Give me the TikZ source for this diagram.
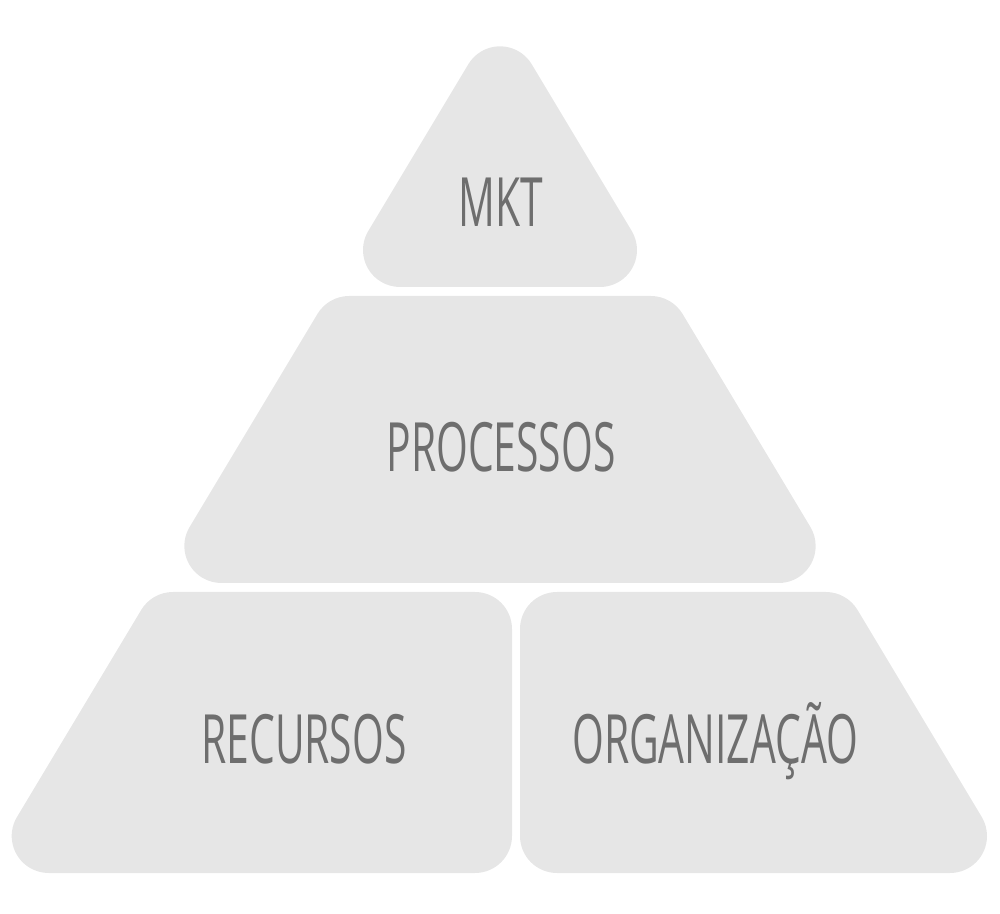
\documentclass[tikz,border=0pt]{standalone}
\usepackage{fontspec}
\setmainfont{Open Sans}[FakeStretch=0.6]
\usetikzlibrary{calc}
\definecolor{blockfill}{HTML}{E6E6E6}
\definecolor{labelgray}{HTML}{6E6E6E}
\begin{document}
\begin{tikzpicture}[x=1pt,y=1pt,
  block/.style={fill=blockfill,draw=none},
  lbl/.style={text=labelgray,font=\fontsize{68}{68}\selectfont,anchor=base,inner sep=0pt}]
\useasboundingbox (0,0) rectangle (1000,913);
\def\R{37pt}
% top triangle
\coordinate (tBL) at (400,663);
\coordinate (tBR) at (600,663);
\coordinate (tA) at (500,829.67);
\fill[block] ($(tBL)+(149.04:\R)$) arc[start angle=149.04,end angle=270,radius=\R]
  -- ($(tBR)+(270:\R)$) arc[start angle=270,end angle=390.96,radius=\R]
  -- ($(tA)+(30.96:\R)$) arc[start angle=30.96,end angle=149.04,radius=\R] -- cycle;
% middle trapezoid
\coordinate (mBL) at (221.35,367);
\coordinate (mBR) at (778.65,367);
\coordinate (mTR) at (650.85,580);
\coordinate (mTL) at (349.15,580);
\fill[block] ($(mBL)+(149.04:\R)$) arc[start angle=149.04,end angle=270,radius=\R]
  -- ($(mBR)+(270:\R)$) arc[start angle=270,end angle=390.96,radius=\R]
  -- ($(mTR)+(30.96:\R)$) arc[start angle=30.96,end angle=90,radius=\R]
  -- ($(mTL)+(90:\R)$) arc[start angle=90,end angle=149.04,radius=\R] -- cycle;
% bottom left
\coordinate (lBL) at (48.7,77);
\coordinate (lBR) at (475,77);
\coordinate (lTR) at (475,284);
\coordinate (lTL) at (172.9,284);
\fill[block] ($(lBL)+(149.04:\R)$) arc[start angle=149.04,end angle=270,radius=\R]
  -- ($(lBR)+(270:\R)$) arc[start angle=270,end angle=360,radius=\R]
  -- ($(lTR)+(0:\R)$) arc[start angle=0,end angle=90,radius=\R]
  -- ($(lTL)+(90:\R)$) arc[start angle=90,end angle=149.04,radius=\R] -- cycle;
% bottom right
\coordinate (rBL) at (557,77);
\coordinate (rBR) at (950,77);
\coordinate (rTR) at (825.8,284);
\coordinate (rTL) at (557,284);
\fill[block] ($(rBL)+(180:\R)$) arc[start angle=180,end angle=270,radius=\R]
  -- ($(rBR)+(270:\R)$) arc[start angle=270,end angle=390.96,radius=\R]
  -- ($(rTR)+(30.96:\R)$) arc[start angle=30.96,end angle=90,radius=\R]
  -- ($(rTL)+(90:\R)$) arc[start angle=90,end angle=180,radius=\R] -- cycle;
% labels
\node[lbl] (mkt) at (501,686) {MKT};
\node[lbl] (proc) at (501,441) {PROCESSOS};
\node[lbl] (rec) at (304,150) {RECURSOS};
\node[lbl] (org) at (715,150) {ORGANIZAÇÃO};
\end{tikzpicture}
\end{document}
